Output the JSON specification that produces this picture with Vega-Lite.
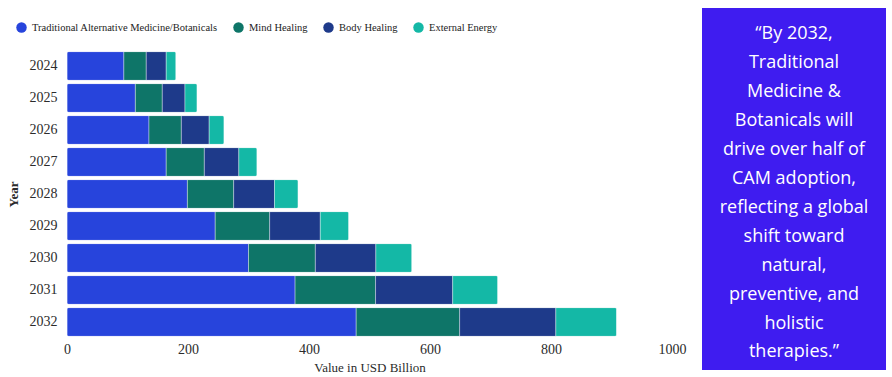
{
  "$schema": "https://vega.github.io/schema/vega-lite/v6.json",
  "background": "white",
  "padding": {"left": 5, "top": 8, "right": 5, "bottom": 0},
  "config": {
    "view": {"stroke": null},
    "font": "Liberation Serif"
  },
  "spacing": 16,
  "hconcat": [
    {
      "width": 605,
      "height": 330,
      "data": {
        "values": [
          {"Year": "2024", "Category": "Traditional Alternative Medicine/Botanicals", "Value": 94},
          {"Year": "2024", "Category": "Mind Healing", "Value": 37},
          {"Year": "2024", "Category": "Body Healing", "Value": 33},
          {"Year": "2024", "Category": "External Energy", "Value": 16},
          {"Year": "2025", "Category": "Traditional Alternative Medicine/Botanicals", "Value": 113},
          {"Year": "2025", "Category": "Mind Healing", "Value": 44.5},
          {"Year": "2025", "Category": "Body Healing", "Value": 37.5},
          {"Year": "2025", "Category": "External Energy", "Value": 20},
          {"Year": "2026", "Category": "Traditional Alternative Medicine/Botanicals", "Value": 135.5},
          {"Year": "2026", "Category": "Mind Healing", "Value": 53.5},
          {"Year": "2026", "Category": "Body Healing", "Value": 46},
          {"Year": "2026", "Category": "External Energy", "Value": 24.5},
          {"Year": "2027", "Category": "Traditional Alternative Medicine/Botanicals", "Value": 164},
          {"Year": "2027", "Category": "Mind Healing", "Value": 63},
          {"Year": "2027", "Category": "Body Healing", "Value": 57},
          {"Year": "2027", "Category": "External Energy", "Value": 30},
          {"Year": "2028", "Category": "Traditional Alternative Medicine/Botanicals", "Value": 199},
          {"Year": "2028", "Category": "Mind Healing", "Value": 76.5},
          {"Year": "2028", "Category": "Body Healing", "Value": 67.5},
          {"Year": "2028", "Category": "External Energy", "Value": 39},
          {"Year": "2029", "Category": "Traditional Alternative Medicine/Botanicals", "Value": 245},
          {"Year": "2029", "Category": "Mind Healing", "Value": 90},
          {"Year": "2029", "Category": "Body Healing", "Value": 83.7},
          {"Year": "2029", "Category": "External Energy", "Value": 47},
          {"Year": "2030", "Category": "Traditional Alternative Medicine/Botanicals", "Value": 300},
          {"Year": "2030", "Category": "Mind Healing", "Value": 110.5},
          {"Year": "2030", "Category": "Body Healing", "Value": 100},
          {"Year": "2030", "Category": "External Energy", "Value": 59.5},
          {"Year": "2031", "Category": "Traditional Alternative Medicine/Botanicals", "Value": 377},
          {"Year": "2031", "Category": "Mind Healing", "Value": 133},
          {"Year": "2031", "Category": "Body Healing", "Value": 127.5},
          {"Year": "2031", "Category": "External Energy", "Value": 74.5},
          {"Year": "2032", "Category": "Traditional Alternative Medicine/Botanicals", "Value": 478},
          {"Year": "2032", "Category": "Mind Healing", "Value": 171},
          {"Year": "2032", "Category": "Body Healing", "Value": 159},
          {"Year": "2032", "Category": "External Energy", "Value": 100.5}
        ]
      },
      "transform": [
        {"calculate": "indexof(['Traditional Alternative Medicine/Botanicals', 'Mind Healing', 'Body Healing', 'External Energy'], datum.Category)", "as": "stackOrder"}
      ],
      "mark": {"type": "bar", "cornerRadius": 2, "stroke": "white", "strokeWidth": 0.6, "strokeOpacity": 0.6},
      "encoding": {
        "y": {
          "field": "Year",
          "type": "ordinal",
          "sort": "ascending",
          "scale": {"range": [42, 330], "paddingInner": 0.1, "paddingOuter": 0.05},
          "axis": {
            "title": "Year",
            "titleFontSize": 13,
            "titleFontWeight": "bold",
            "titleColor": "#2b2b2b",
            "titlePadding": 9,
            "labelFontSize": 14,
            "labelColor": "#2b2b2b",
            "labelPadding": 10,
            "ticks": false,
            "domain": false,
            "grid": false
          }
        },
        "x": {
          "field": "Value",
          "type": "quantitative",
          "aggregate": "sum",
          "scale": {"domain": [0, 1000], "nice": false},
          "axis": {
            "title": "Value in USD Billion",
            "values": [0, 200, 400, 600, 800, 1000],
            "format": "d",
            "titleFontSize": 13,
            "titleFontWeight": "normal",
            "titleColor": "#2b2b2b",
            "titlePadding": 5,
            "labelFontSize": 14,
            "labelColor": "#2b2b2b",
            "labelPadding": 4,
            "labelFlush": false,
            "ticks": false,
            "domain": false,
            "grid": false
          }
        },
        "order": {"field": "stackOrder", "type": "quantitative", "sort": "ascending"},
        "color": {
          "field": "Category",
          "type": "nominal",
          "sort": ["Traditional Alternative Medicine/Botanicals", "Mind Healing", "Body Healing", "External Energy"],
          "scale": {
            "domain": ["Traditional Alternative Medicine/Botanicals", "Mind Healing", "Body Healing", "External Energy"],
            "range": ["#2744DC", "#0E7568", "#1E3A8A", "#14B8A6"]
          },
          "legend": {
            "title": null,
            "orient": "none",
            "direction": "horizontal",
            "columns": 4,
            "legendX": -62,
            "legendY": 3,
            "padding": 11,
            "symbolType": "circle",
            "symbolSize": 110,
            "symbolStrokeWidth": 0,
            "labelFontSize": 10.5,
            "labelColor": "#222222",
            "labelOffset": 5,
            "columnPadding": 15,
            "labelLimit": 400
          }
        }
      }
    },
    {
      "width": 184,
      "height": 362,
      "view": {"fill": "#3F1CF0", "stroke": null},
      "data": {
        "values": [
          {"line": 1, "text": "“By 2032,"},
          {"line": 2, "text": "Traditional"},
          {"line": 3, "text": "Medicine &"},
          {"line": 4, "text": "Botanicals will"},
          {"line": 5, "text": "drive over half of"},
          {"line": 6, "text": "CAM adoption,"},
          {"line": 7, "text": "reflecting a global"},
          {"line": 8, "text": "shift toward"},
          {"line": 9, "text": "natural,"},
          {"line": 10, "text": "preventive, and"},
          {"line": 11, "text": "holistic"},
          {"line": 12, "text": "therapies.”"}
        ]
      },
      "mark": {"type": "text", "font": "Open Sans", "fontSize": 18, "color": "white", "align": "center", "baseline": "middle"},
      "encoding": {
        "y": {"field": "line", "type": "ordinal", "scale": {"type": "point", "padding": 0.76, "align": 0.6}, "axis": null},
        "text": {"field": "text", "type": "nominal"}
      }
    }
  ],
  "resolve": {"scale": {"color": "independent"}, "legend": {"color": "independent"}}
}
